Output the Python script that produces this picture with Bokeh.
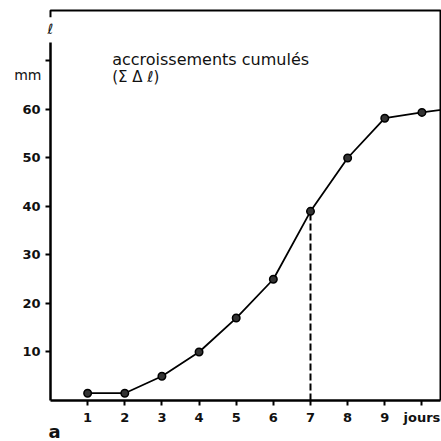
from bokeh.plotting import figure
from bokeh.models import Label, FixedTicker, Range1d
from bokeh.embed import file_html
from bokeh.resources import INLINE

# data
days = [1, 2, 3, 4, 5, 6, 7, 8, 9, 10]
cum_growth = [1.5, 1.5, 5, 10, 17, 25, 39, 50, 58.2, 59.4]
# curve continues beyond the frame edge
line_days = days + [11]
line_growth = cum_growth + [60.4]
x_ticks = [1, 2, 3, 4, 5, 6, 7, 8, 9, 10]
y_ticks = [10, 20, 30, 40, 50, 60, 70]
x_tick_labels = {10: "jours"}
y_tick_labels = {70: ""}
marked_day = 7
marked_value = 39
x_max = 10.5
y_max = 80.4

FONT = "DejaVu Sans"
INK = "#111111"

p = figure(width=441, height=441, output_backend="svg", toolbar_location=None,
           x_range=Range1d(-1.346, 10.527), y_range=Range1d(-8.454, 82.474),
           min_border=0, min_border_left=0, min_border_right=0,
           min_border_top=0, min_border_bottom=0)
p.outline_line_color = None
p.xgrid.visible = False
p.ygrid.visible = False
p.background_fill_color = "white"
p.border_fill_color = "white"

for ax in (p.xaxis[0], p.yaxis[0]):
    ax.fixed_location = 0
    ax.axis_line_width = 2.5
    ax.axis_line_color = "black"
    ax.major_tick_in = 0
    ax.major_tick_out = 5
    ax.major_tick_line_width = 2
    ax.minor_tick_line_color = None
    ax.major_label_text_font = FONT
    ax.major_label_text_font_style = "bold"
    ax.major_label_text_font_size = "13px"
    ax.major_label_text_color = INK

p.xaxis.ticker = FixedTicker(ticks=x_ticks)
p.xaxis.major_label_overrides = x_tick_labels
p.xaxis.major_label_standoff = 5
p.xaxis.bounds = (0, x_max)
p.yaxis.ticker = FixedTicker(ticks=y_ticks)
p.yaxis.major_label_overrides = y_tick_labels
p.yaxis.major_label_standoff = 5
p.yaxis.bounds = (0, 73.8)

# frame: hook at top-left, top and right borders
p.line([0, 0, x_max, x_max], [79.0, y_max, y_max, 0], line_color="black", line_width=2)

# dashed marker at day 7
p.segment(x0=[marked_day], y0=[0], x1=[marked_day], y1=[marked_value],
          line_color="black", line_width=2, line_dash="7 3")

p.line(line_days, line_growth, line_color="black", line_width=1.8)
p.scatter(days, cum_growth, size=7.5, fill_color="#333333", line_color="black", line_width=1.5)

# texts
p.add_layout(Label(x=1.66, y=70.25, text="accroissements cumulés", text_font=FONT,
                   text_font_size="16px", text_baseline="alphabetic", text_color=INK))
p.add_layout(Label(x=1.66, y=66.6, text="(Σ Δ ℓ)", text_font=FONT,
                   text_font_size="15px", text_baseline="alphabetic", text_color=INK))
p.add_layout(Label(x=-0.242, y=67.1, text="mm", text_font=FONT, text_font_size="14px",
                   text_align="right", text_baseline="alphabetic", text_color=INK))
p.add_layout(Label(x=0, y=76.6, text="ℓ", text_font=FONT, text_font_size="14px",
                   text_font_style="italic",
                   text_align="center", text_baseline="alphabetic", text_color=INK))
p.add_layout(Label(x=0.108, y=-6.3, text="a", text_font=FONT, text_font_style="bold",
                   text_font_size="18px", text_align="center", text_baseline="alphabetic",
                   text_color=INK))

open("out.html", "w").write(file_html(p, INLINE))
